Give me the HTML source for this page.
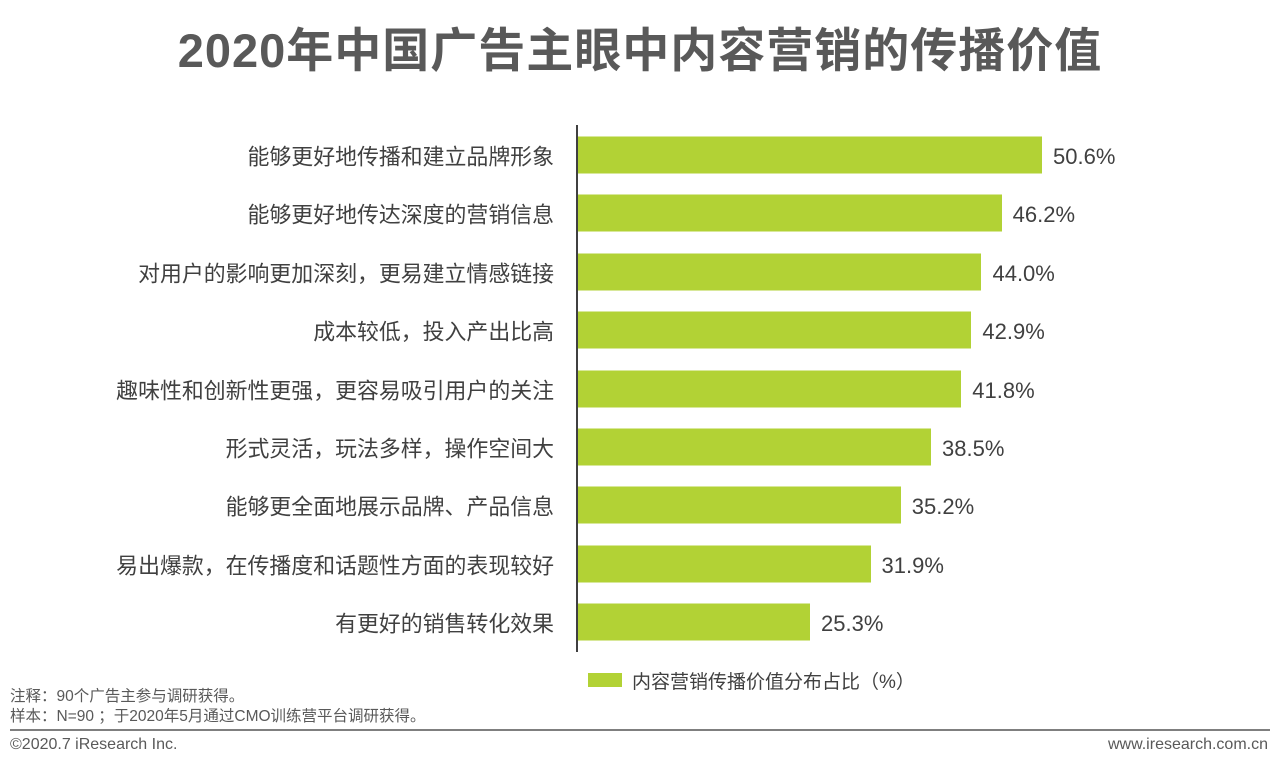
<!DOCTYPE html>
<html><head><meta charset="utf-8"><style>
body{margin:0;width:1280px;height:770px;background:#fff;position:relative;overflow:hidden;font-family:"Liberation Sans","Noto Sans CJK SC",sans-serif;color:#404040}
.t{position:absolute;left:0;width:1280px;top:12px;text-align:center;font-size:47px;font-weight:bold;color:#595959;letter-spacing:1px}
.lab{position:absolute;right:726px;font-size:21.9px;color:#404040;white-space:nowrap;transform:translateY(-50%)}
.bar{position:absolute;left:578px;height:37px;background:#b2d235;transform:translateY(-50%)}
.val{position:absolute;font-size:22px;color:#404040;transform:translateY(-50%)}
.ax{position:absolute;left:576px;top:125px;width:2px;height:527px;background:#404040}
.sm{position:absolute;left:10px;font-size:15.5px;color:#595959}
</style></head><body>
<div class="t">2020年中国广告主眼中内容营销的传播价值</div>
<div class="ax"></div>
<div id="c"></div>
<script>
var d=[["能够更好地传播和建立品牌形象",50.6],["能够更好地传达深度的营销信息",46.2],["对用户的影响更加深刻，更易建立情感链接",44.0],["成本较低，投入产出比高",42.9],["趣味性和创新性更强，更容易吸引用户的关注",41.8],["形式灵活，玩法多样，操作空间大",38.5],["能够更全面地展示品牌、产品信息",35.2],["易出爆款，在传播度和话题性方面的表现较好",31.9],["有更好的销售转化效果",25.3]];
var h="";d.forEach(function(r,i){var y=155+i*58.4,w=r[1]*9.17;
h+='<div class="lab" style="top:'+(y+1)+'px">'+r[0]+'</div><div class="bar" style="top:'+y+'px;width:'+w+'px"></div><div class="val" style="top:'+(y+2)+'px;left:'+(578+w+11)+'px">'+r[1].toFixed(1)+'%</div>';});
document.getElementById("c").innerHTML=h;
</script>
<div style="position:absolute;left:588px;top:673px;width:34px;height:14px;background:#b2d235"></div>
<div style="position:absolute;left:632px;top:667px;font-size:19px">内容营销传播价值分布占比（%）</div>
<div class="sm" style="top:684px">注释：90个广告主参与调研获得。</div>
<div class="sm" style="top:704px">样本：N=90 ；于2020年5月通过CMO训练营平台调研获得。</div>
<div style="position:absolute;left:10px;top:729px;width:1260px;height:2px;background:#7f7f7f"></div>
<div class="sm" style="top:736px;font-size:16px">©2020.7 iResearch Inc.</div>
<div class="sm" style="top:736px;font-size:16px;left:auto;right:12px">www.iresearch.com.cn</div>
</body></html>
